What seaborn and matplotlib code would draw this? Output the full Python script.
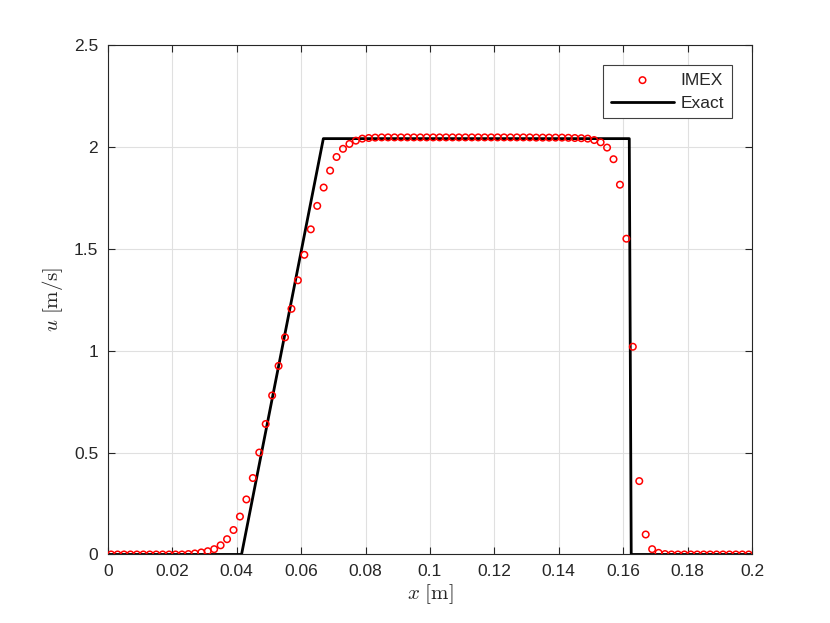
import numpy as np
import pandas as pd
import matplotlib
matplotlib.use("Agg")
import matplotlib.pyplot as plt
from matplotlib.ticker import FormatStrFormatter
import seaborn as sns

# IMEX solution at the cell centres (100 cells on [0, 0.2])
x_imex = np.linspace(0.001, 0.199, 100)
u_imex = [
    0.0, 0.0, 0.0, 0.0, 0.0, 0.0, 0.0, 0.0, 0.0, 0.0, 0.0, 0.0,
    0.002, 0.005, 0.010, 0.016, 0.026, 0.045, 0.075, 0.120, 0.186, 0.270,
    0.375, 0.500, 0.640, 0.780, 0.925, 1.065, 1.205, 1.345, 1.470, 1.595,
    1.710, 1.800, 1.883, 1.950, 1.990, 2.014, 2.030,
    2.040, 2.043, 2.045, 2.046, 2.046, 2.046, 2.046, 2.046, 2.046, 2.046,
    2.046, 2.046, 2.046, 2.046, 2.046, 2.046, 2.046, 2.046, 2.046, 2.046,
    2.046, 2.046, 2.046, 2.046, 2.046, 2.046, 2.046, 2.045, 2.045, 2.045,
    2.045, 2.045, 2.044, 2.043, 2.042,
    2.040, 2.033, 2.022, 1.996, 1.939, 1.814, 1.549, 1.019, 0.360, 0.098,
    0.026, 0.008, 0.002,
    0.0, 0.0, 0.0, 0.0, 0.0, 0.0, 0.0, 0.0, 0.0, 0.0, 0.0, 0.0, 0.0,
]

# exact solution (piecewise linear)
x_exact = [0.0, 0.0415, 0.0669, 0.1619, 0.1625, 0.2]
u_exact = [0.0, 0.0, 2.04, 2.04, 0.0, 0.0]

imex = pd.DataFrame({"x": x_imex, "u": u_imex})
exact = pd.DataFrame({"x": x_exact, "u": u_exact})

sns.set_style("whitegrid")
plt.rcParams["font.family"] = ["Liberation Sans", "DejaVu Sans"]
plt.rcParams["mathtext.fontset"] = "cm"

fig = plt.figure(figsize=(8.3, 6.23), dpi=100)
ax = fig.add_axes([0.130, 0.110, 0.776, 0.818])

sns.scatterplot(data=imex, x="x", y="u", ax=ax, marker="o", s=22,
                facecolor="none", edgecolor="red", linewidth=1.1,
                label="IMEX", zorder=3)
sns.lineplot(data=exact, x="x", y="u", ax=ax, color="black", linewidth=2.0,
             sort=False, estimator=None, label="Exact", zorder=2)

ax.set_xlim(0, 0.2)
ax.set_ylim(0, 2.5)
ax.set_xticks(np.arange(0, 0.2001, 0.02))
ax.set_yticks([0, 0.5, 1, 1.5, 2, 2.5])
ax.xaxis.set_major_formatter(FormatStrFormatter("%g"))
ax.yaxis.set_major_formatter(FormatStrFormatter("%g"))

ax.grid(True, color="0.88", linewidth=0.8)
ax.tick_params(direction="in", length=5, width=0.8, colors="0.15",
               labelsize=12.5, top=True, right=True,
               bottom=True, left=True, pad=7)
for sp in ax.spines.values():
    sp.set_color("0.15")
    sp.set_linewidth(0.8)

ax.set_xlabel(r"$x\ [\mathrm{m}]$", fontsize=15, color="0.15", labelpad=2)
ax.set_ylabel(r"$u\ [\mathrm{m/s}]$", fontsize=15, color="0.15", labelpad=6)

leg = ax.legend(loc="upper right", bbox_to_anchor=(0.969, 0.961),
                borderaxespad=0, fancybox=False, framealpha=1,
                edgecolor="0.25", fontsize=12.5, markerfirst=True,
                handlelength=3.6, handletextpad=0.4,
                borderpad=0.45, labelspacing=0.45)
leg.get_frame().set_linewidth(0.8)

fig.savefig("out.png", dpi=100)
